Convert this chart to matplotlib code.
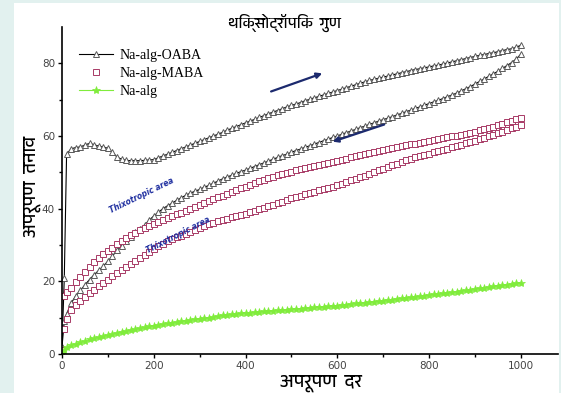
import matplotlib
import matplotlib.pyplot as plt
from matplotlib import font_manager
from matplotlib.ft2font import FT2Font
from matplotlib.patches import Rectangle

matplotlib.use('Agg')

# shear rate grid (x) shared by every series
rate = [0, 5, 10] + list(range(20, 1001, 10))

# first row: 0, 5, 10, 20 ... 200; then one row per 100 of shear rate
oaba_up = [2, 21, 55, 56.5, 56.8, 57, 57.5, 58, 57.6, 57.2, 57, 56.6, 55.5,
           54.2, 53.6, 53.3, 53.2, 53.2, 53.2, 53.3, 53.4, 53.5,
           54, 54.5, 55, 55.5, 56, 56.5, 57, 57.5, 58, 58.5,
           59, 59.5, 60, 60.5, 61, 61.6, 62.1, 62.6, 63.1, 63.6,
           64.1, 64.6, 65.1, 65.6, 66.1, 66.6, 67, 67.5, 68, 68.4,
           68.8, 69.2, 69.7, 70.1, 70.5, 70.9, 71.3, 71.7, 72.1, 72.5,
           72.9, 73.3, 73.7, 74.1, 74.5, 74.9, 75.3, 75.6, 75.9, 76.2,
           76.5, 76.8, 77.1, 77.4, 77.7, 78, 78.3, 78.5, 78.8, 79,
           79.3, 79.5, 79.8, 80.1, 80.4, 80.7, 81, 81.3, 81.6, 81.9,
           82.2, 82.4, 82.7, 82.9, 83.2, 83.5, 83.8, 84, 84.4, 85]
oaba_down = [2, 9, 11, 14, 16, 17.5, 19, 20.5, 21.8, 23, 24.2, 25.5, 27,
             28.5, 29.8, 31, 32.3, 33.5, 34.5, 35.5, 36.8, 38,
             39, 40, 40.8, 41.5, 42.3, 43, 43.7, 44.3, 44.8, 45.3,
             45.9, 46.4, 47, 47.6, 48.2, 48.7, 49.2, 49.7, 50.2, 50.6,
             51.1, 51.6, 52.1, 52.6, 53.1, 53.6, 54.1, 54.6, 55, 55.5,
             56, 56.4, 56.9, 57.3, 57.8, 58.2, 58.7, 59.1, 59.6, 60,
             60.5, 60.9, 61.4, 61.8, 62.3, 62.7, 63.2, 63.6, 64.1, 64.5,
             64.9, 65.3, 65.8, 66.2, 66.7, 67.1, 67.6, 68, 68.5, 68.9,
             69.4, 69.8, 70.3, 70.8, 71.3, 71.8, 72.4, 73, 73.6, 74.3,
             75, 75.7, 76.4, 77.1, 77.8, 78.6, 79.4, 80.2, 81.2, 82.5]
maba_up = [1, 16, 17, 18.3, 19.8, 21.3, 22.7, 24, 25.2, 26.3, 27.4, 28.4, 29.3,
           30.2, 31.1, 32, 32.7, 33.4, 34.1, 34.8, 35.3, 35.8,
           36.4, 36.9, 37.4, 37.9, 38.4, 38.9, 39.4, 39.9, 40.5, 41,
           41.5, 42, 42.6, 43.1, 43.6, 44.1, 44.6, 45.1, 45.6, 46.1,
           46.6, 47, 47.5, 47.9, 48.4, 48.8, 49.2, 49.5, 49.9, 50.2,
           50.6, 50.9, 51.2, 51.5, 51.8, 52.1, 52.4, 52.6, 52.9, 53.1,
           53.5, 53.8, 54.2, 54.5, 54.8, 55.1, 55.4, 55.7, 56, 56.2,
           56.5, 56.7, 57, 57.2, 57.5, 57.7, 57.9, 58.1, 58.4, 58.6,
           58.9, 59.1, 59.4, 59.6, 59.9, 60.1, 60.4, 60.6, 60.9, 61.2,
           61.6, 61.9, 62.3, 62.6, 63, 63.4, 63.8, 64.2, 64.6, 65]
maba_down = [1, 7, 9.5, 12, 13.5, 14.7, 15.8, 16.8, 17.7, 18.6, 19.6, 20.5,
             21.4, 22.3, 23.2, 24, 24.9, 25.7, 26.5, 27.3, 28.1, 28.9,
             29.6, 30.3, 31, 31.6, 32.1, 32.6, 33.1, 33.6, 34.2, 34.8,
             35.3, 35.7, 36.1, 36.5, 36.9, 37.2, 37.6, 37.9, 38.3, 38.6,
             39, 39.4, 39.8, 40.2, 40.6, 41, 41.5, 41.9, 42.4, 42.8,
             43.2, 43.5, 43.9, 44.3, 44.7, 45, 45.4, 45.7, 46.1, 46.4,
             46.9, 47.3, 47.8, 48.2, 48.7, 49.1, 49.6, 50.1, 50.6, 51,
             51.5, 51.9, 52.4, 52.8, 53.3, 53.7, 54.1, 54.4, 54.8, 55.1,
             55.5, 55.8, 56.2, 56.5, 56.9, 57.2, 57.6, 58, 58.4, 58.7,
             59.1, 59.5, 60, 60.4, 60.8, 61.2, 61.7, 62.1, 62.6, 63]
na_alg = [0.5, 1.2, 1.8, 2.4, 2.8, 3.2, 3.6, 4, 4.3, 4.6, 4.9, 5.2, 5.5, 5.8,
          6.1, 6.3, 6.6, 6.8, 7.1, 7.3, 7.6, 7.8,
          8, 8.2, 8.4, 8.6, 8.8, 9, 9.2, 9.4, 9.6, 9.7,
          9.9, 10, 10.2, 10.4, 10.6, 10.7, 10.9, 11, 11.2, 11.3,
          11.4, 11.5, 11.6, 11.7, 11.8, 11.9, 12, 12.1, 12.2, 12.3,
          12.4, 12.5, 12.6, 12.7, 12.8, 12.9, 13, 13.1, 13.2, 13.3,
          13.5, 13.6, 13.8, 13.9, 14, 14.1, 14.3, 14.4, 14.6, 14.7,
          14.9, 15, 15.2, 15.3, 15.5, 15.6, 15.8, 15.9, 16.1, 16.2,
          16.4, 16.5, 16.7, 16.8, 17, 17.2, 17.4, 17.5, 17.7, 17.9,
          18.1, 18.2, 18.4, 18.6, 18.8, 18.9, 19.1, 19.3, 19.5, 19.6]

arrows = [((450, 72), (573, 77.5)), ((708, 63.4), (584, 58.2))]
labels = [(174, 43.6, 26), (253, 32.8, 27)]


def devanagari_family():
    for f in font_manager.fontManager.ttflist:
        if 'Devanagari' in f.name:
            return f.name
    for f in font_manager.fontManager.ttflist:
        try:
            if 0x0915 in FT2Font(f.fname).get_charmap():
                return f.name
        except Exception:
            pass
    return 'DejaVu Sans'


hindi = [devanagari_family(), 'DejaVu Sans']

fig = plt.figure(figsize=(5.61, 3.93), dpi=100)
fig.patch.set_facecolor('#e2f1ef')
fig.patches.append(Rectangle((14 / 561, 0), 545 / 561, 390 / 393,
                             transform=fig.transFigure, facecolor='white',
                             edgecolor='none', zorder=-5))

ax = fig.add_axes([62 / 561, 1 - 354 / 393, 496 / 561, 327 / 393])
ax.patch.set_alpha(0)

tri = dict(marker='^', markersize=4.5, markerfacecolor='white',
           markeredgecolor='#5a5a5a', markeredgewidth=0.7, color='black', lw=0.8)
sq = dict(marker='s', markersize=4.3, markerfacecolor='white',
          markeredgecolor='#a83a66', markeredgewidth=0.7, ls='none')
star = dict(marker='*', markersize=6, color='#80ec3c', lw=0.8,
            markeredgewidth=0.5)

ax.plot(rate, oaba_up, label='Na-alg-OABA', **tri)
ax.plot(rate, oaba_down, **tri)
ax.plot(rate, maba_up, label='Na-alg-MABA', **sq)
ax.plot(rate, maba_down, **sq)
ax.plot(rate, na_alg, label='Na-alg', **star)

for start, end in arrows:
    ax.annotate('', xy=end, xytext=start,
                arrowprops=dict(arrowstyle='-|>', color='#1c2a6e', lw=1.6,
                                mutation_scale=8))
for x, y, rot in labels:
    ax.text(x, y, 'Thixotropic area', rotation=rot, color='#1f2fa0',
            fontsize=5.5, fontweight='bold', style='italic',
            ha='center', va='center', rotation_mode='anchor')

ax.set_xlim(0, 1081)
ax.set_ylim(0, 90)
ax.set_xticks([0, 200, 400, 600, 800, 1000])
ax.set_xticks(range(100, 1000, 200), minor=True)
ax.set_yticks([0, 20, 40, 60, 80])
ax.set_yticks(range(10, 90, 20), minor=True)
ax.spines['top'].set_visible(False)
ax.spines['right'].set_visible(False)
ax.spines['left'].set_linewidth(1.2)
ax.spines['bottom'].set_linewidth(1.2)
ax.tick_params(which='major', length=3, width=1, labelsize=7.5,
               labelcolor='#444444', pad=2)
ax.tick_params(which='minor', length=2.5, width=1)

ax.legend(loc='upper left', bbox_to_anchor=(0.01, 0.97), frameon=False,
          prop={'family': 'Liberation Serif', 'size': 10},
          handlelength=2.4, handletextpad=0.5, labelspacing=0.35)

fig.text(0.508, 1 - 23 / 393, 'थिक्सोट्रॉपिक  गुण', ha='center', va='center',
         fontsize=11, fontweight='bold', style='italic', family=hindi)
fig.text(32 / 561, 1 - 186 / 393, 'अपरूपण  तनाव', ha='center', va='center',
         rotation=90, fontsize=13, fontweight='bold', style='italic',
         family=hindi)
fig.text(321 / 561, 1 - 383 / 393, 'अपरूपण  दर', ha='center', va='center',
         fontsize=13, fontweight='bold', style='italic', family=hindi)

fig.savefig('out.png', dpi=100, facecolor=fig.get_facecolor())
